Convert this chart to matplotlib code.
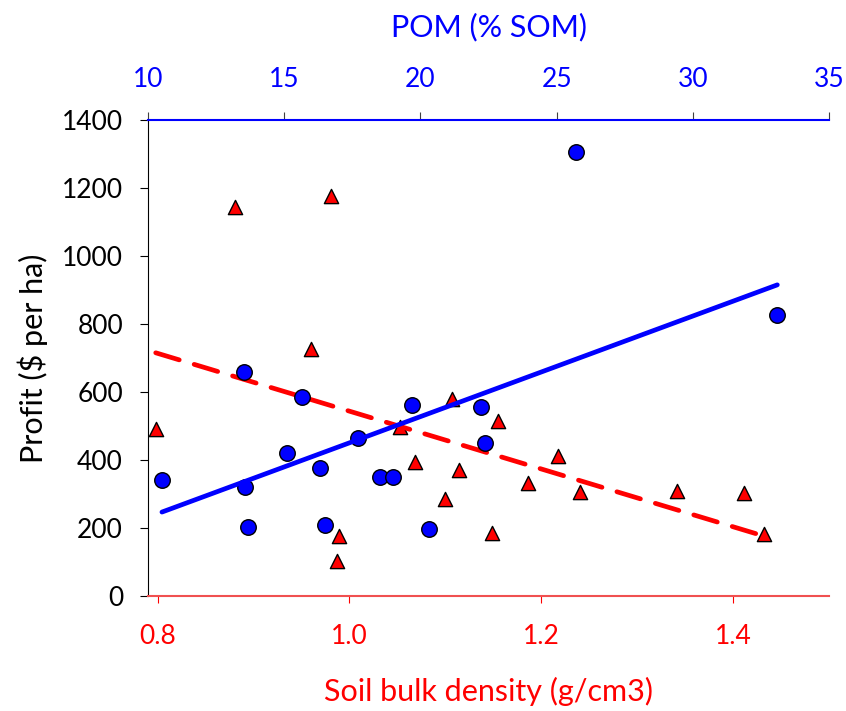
import numpy as np
import matplotlib.pyplot as plt

# POM (% SOM) vs profit -- blue circles
pom = [10.51, 13.52, 15.66, 17.70, 15.11, 16.31, 13.56, 13.68, 16.48,
       18.52, 18.98, 19.70, 20.32, 22.22, 22.37, 25.70, 33.10]
pom_profit = [341, 660, 586, 466, 420, 378, 322, 204, 208,
              351, 349, 563, 196, 557, 450, 1306, 828]

# soil bulk density (g/cm3) vs profit -- red triangles
bd = [0.881, 0.981, 0.960, 0.798, 1.053, 1.107, 1.068, 1.114, 1.100, 0.989,
      0.987, 1.155, 1.149, 1.217, 1.186, 1.240, 1.341, 1.411, 1.432]
bd_profit = [1145, 1176, 727, 490, 496, 580, 395, 371, 284, 176,
             102, 516, 184, 411, 333, 307, 310, 302, 181]

yticks = [0, 200, 400, 600, 800, 1000, 1200, 1400]
bd_ticks = [0.8, 1.0, 1.2, 1.4]
pom_ticks = [10, 15, 20, 25, 30, 35]

plt.rcParams['font.family'] = ['Lato', 'DejaVu Sans']

fig = plt.figure(figsize=(8.46, 7.11), dpi=100)
ax = fig.add_axes([0.175, 0.1617, 0.805, 0.6695])

red = '#ff0000'
blue = '#0000ff'

# bulk density series + linear trend
ax.scatter(bd, bd_profit, marker='^', s=105, color=red, edgecolor='black',
           linewidth=1, zorder=3)
k, b = np.polyfit(bd, bd_profit, 1)
xs = np.array([min(bd), max(bd)])
ax.plot(xs, k * xs + b, color=red, lw=3.4, dashes=(5.2, 3.3),
        dash_capstyle='round', zorder=4)
ax.set_xlim(0.79, 1.5)
ax.set_ylim(0, 1400)
ax.set_xticks(bd_ticks)
ax.set_xticklabels([f'{t:.1f}' for t in bd_ticks])
ax.set_yticks(yticks)
ax.tick_params(axis='x', colors=red, labelsize=19, length=5, pad=15,
               direction='out')
ax.tick_params(axis='y', colors='black', labelsize=19, length=6, pad=12,
               direction='out')
ax.spines['bottom'].set_color('#f05050')
ax.spines['bottom'].set_linewidth(1.5)
ax.spines['right'].set_visible(False)
ax.spines['top'].set_visible(False)
ax.set_xlabel('Soil bulk density (g/cm3)', color=red, fontsize=22, labelpad=20)
ax.set_ylabel('Profit ($ per ha)', color='black', fontsize=22, labelpad=10)

# POM series + linear trend on top axis
ax2 = ax.twiny()
ax2.scatter(pom, pom_profit, marker='o', s=125, color=blue, edgecolor='black',
            linewidth=1, zorder=3)
k2, b2 = np.polyfit(pom, pom_profit, 1)
xs2 = np.array([min(pom), max(pom)])
ax2.plot(xs2, k2 * xs2 + b2, color=blue, lw=3.4, solid_capstyle='round',
         zorder=4)
ax2.set_xlim(10, 35)
ax2.set_xticks(pom_ticks)
ax2.tick_params(axis='x', colors='#404040', labelcolor=blue, labelsize=19,
                length=6, pad=14, direction='out')
ax2.spines['top'].set_color(blue)
ax2.spines['top'].set_linewidth(1.5)
ax2.spines['right'].set_visible(False)
ax2.spines['bottom'].set_visible(False)
ax2.spines['left'].set_visible(False)
ax2.set_xlabel('POM (% SOM)', color=blue, fontsize=22, labelpad=22)

fig.savefig('out.png', dpi=100)
